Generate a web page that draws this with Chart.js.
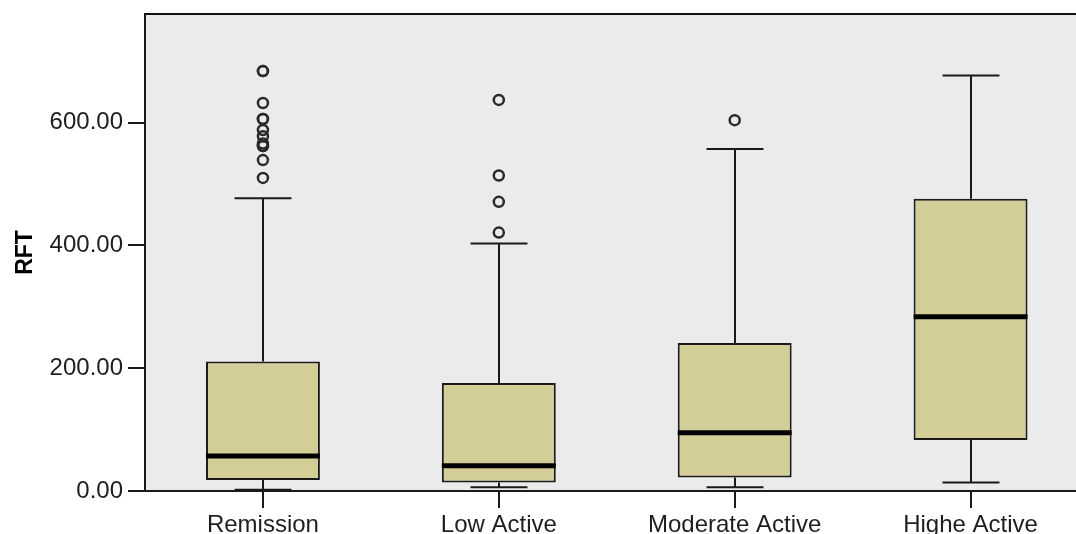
<!DOCTYPE html>
<html>
<head>
<meta charset="utf-8">
<script src="https://cdn.jsdelivr.net/npm/chart.js@4"></script>
<style>
  html, body { margin: 0; padding: 0; background: #ffffff; overflow: hidden; }
  #wrap { width: 1076px; height: 534px; overflow: hidden; }
  canvas { display: block; }
</style>
</head>
<body>
<div id="wrap"><canvas id="c" width="1096" height="534"></canvas></div>
<script>
const categories = ['Remission', 'Low Active', 'Moderate Active', 'Highe Active'];
const q1 = [18, 14, 22, 83];
const medians = [57, 41, 95, 284];
const q3 = [211, 176, 241, 476];
const whiskerLow = [2, 6, 6, 14];
const whiskerHigh = [477, 403, 557, 677];
const outliersRemission = [684, 684, 632, 606, 606, 588, 578, 566, 562, 562, 539, 510];
const outliersLow = [637, 514, 471, 421];
const outliersModerate = [604];
const outliersHigh = [];
const yTicks = [0, 200, 400, 600];
const yMax = 777;
const yTitle = 'RFT';

const outlierGroups = [outliersRemission, outliersLow, outliersModerate, outliersHigh];
const outlierPoints = [];
outlierGroups.forEach((arr, i) => arr.forEach(v => outlierPoints.push({ x: categories[i], y: v })));

const boxPlugin = {
  id: 'boxParts',
  beforeDraw(chart) {
    const { ctx, chartArea: a } = chart;
    ctx.save();
    ctx.fillStyle = '#EBEBEB';
    ctx.fillRect(a.left, a.top, a.right - a.left, a.bottom - a.top);
    ctx.restore();
  },
  beforeDatasetsDraw(chart) {
    const { ctx } = chart;
    const y = chart.scales.y;
    const meta = chart.getDatasetMeta(0);
    ctx.save();
    ctx.strokeStyle = '#1a1a1a';
    ctx.lineWidth = 2;
    meta.data.forEach((bar, i) => {
      const x = Math.round(bar.x);
      const cap = bar.width / 4;
      const yHi = y.getPixelForValue(whiskerHigh[i]);
      const yQ3 = y.getPixelForValue(q3[i]);
      const yQ1 = y.getPixelForValue(q1[i]);
      const yLo = y.getPixelForValue(whiskerLow[i]);
      ctx.beginPath();
      ctx.moveTo(x, yHi); ctx.lineTo(x, yQ3);
      ctx.moveTo(x, yQ1); ctx.lineTo(x, yLo);
      ctx.moveTo(x - cap, yHi); ctx.lineTo(x + cap, yHi);
      ctx.moveTo(x - cap, yLo); ctx.lineTo(x + cap, yLo);
      ctx.stroke();
    });
    ctx.restore();
  },
  afterDatasetsDraw(chart) {
    const { ctx, chartArea: a } = chart;
    const y = chart.scales.y;
    const meta = chart.getDatasetMeta(0);
    ctx.save();
    ctx.strokeStyle = '#000000';
    ctx.lineWidth = 5;
    meta.data.forEach((bar, i) => {
      const ym = y.getPixelForValue(medians[i]);
      ctx.beginPath();
      ctx.moveTo(bar.x - bar.width / 2, ym);
      ctx.lineTo(bar.x + bar.width / 2, ym);
      ctx.stroke();
    });
    ctx.lineWidth = 2;
    ctx.strokeStyle = '#111111';
    ctx.beginPath();
    ctx.moveTo(a.left - 1, a.top);
    ctx.lineTo(a.right, a.top);
    ctx.stroke();
    ctx.restore();
  }
};

Chart.defaults.font.family = '"Liberation Sans", Arial, sans-serif';
Chart.defaults.color = '#1e1e1e';

new Chart(document.getElementById('c'), {
  type: 'bar',
  data: {
    labels: categories,
    datasets: [
      {
        type: 'bar',
        data: categories.map((c, i) => [q1[i], q3[i]]),
        backgroundColor: '#D3CE98',
        borderColor: '#1a1a1a',
        borderWidth: 2,
        borderSkipped: false,
        categoryPercentage: 1,
        barPercentage: 0.483
      },
      {
        type: 'scatter',
        data: outlierPoints,
        pointStyle: 'circle',
        radius: 5,
        borderWidth: 2.5,
        borderColor: '#2a2a2a',
        backgroundColor: 'rgba(0,0,0,0)'
      }
    ]
  },
  options: {
    responsive: false,
    animation: false,
    devicePixelRatio: 1,
    layout: { padding: { top: 14, right: 1, left: 0, bottom: 0 } },
    plugins: { legend: { display: false }, tooltip: { enabled: false } },
    scales: {
      x: {
        type: 'category',
        offset: true,
        grid: { display: true, drawOnChartArea: false, drawTicks: true, tickLength: 17, offset: false, color: '#1a1a1a', lineWidth: 2 },
        border: { display: true, color: '#1a1a1a', width: 2 },
        ticks: { font: { size: 24 }, maxRotation: 0, autoSkip: false, padding: 3, color: '#1e1e1e' },
        afterFit(scale) { scale.height = 43; scale.paddingLeft = 0; scale.paddingRight = 0; }
      },
      y: {
        type: 'linear',
        min: 0,
        max: yMax,
        afterBuildTicks(scale) { scale.ticks = yTicks.map(v => ({ value: v })); },
        grid: { display: true, drawOnChartArea: false, drawTicks: true, tickLength: 17, color: '#1a1a1a', lineWidth: 2 },
        border: { display: true, color: '#1a1a1a', width: 2 },
        ticks: { font: { size: 24 }, padding: 5, color: '#1e1e1e', callback: v => Number(v).toFixed(2) },
        title: { display: true, text: yTitle, font: { size: 23, weight: 'bold' }, color: '#000000', padding: { top: 12, bottom: 4 } },
        afterFit(scale) { scale.width = 145; scale.paddingTop = 0; scale.paddingBottom = 0; }
      }
    }
  },
  plugins: [boxPlugin]
});
</script>
</body>
</html>
